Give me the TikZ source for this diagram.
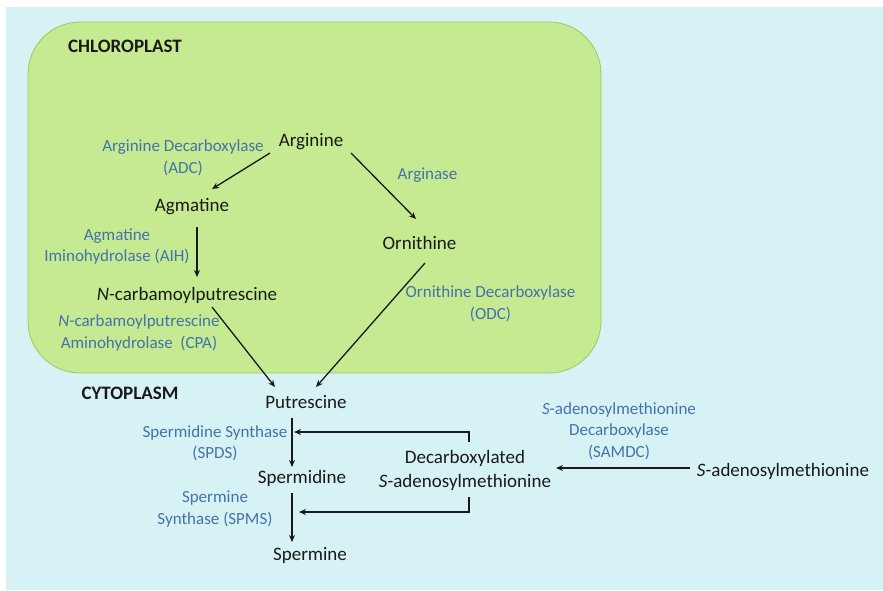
\documentclass[tikz,border=0pt]{standalone}
\usepackage{fontspec}
\setmainfont{Carlito}
\usetikzlibrary{arrows.meta}
\definecolor{bgcyan}{RGB}{214,242,245}
\definecolor{chlfill}{RGB}{198,234,145}
\definecolor{chldraw}{RGB}{150,205,95}
\definecolor{txt}{RGB}{25,25,25}
\definecolor{enzc}{RGB}{68,114,170}
\tikzset{
  met/.style={font=\fontsize{19}{24}\selectfont, text=txt, inner sep=0pt, align=center},
  enz/.style={font=\fontsize{17}{21.5}\selectfont, text=enzc, inner sep=0pt, align=center},
  comp/.style={font=\bfseries\fontsize{19}{22}\selectfont, text=txt, inner sep=0pt},
  arr/.style={-{Stealth[length=7pt,width=6pt]}, line width=1.3pt, draw=txt},
}
\begin{document}
\begin{tikzpicture}[x=1pt,y=-1pt]
\useasboundingbox (0,0) rectangle (883,590);
\fill[white] (0,0) rectangle (883,590);
\fill[bgcyan] (6,7) rectangle (883,590);
\filldraw[fill=chlfill, draw=chldraw, line width=0.8pt, rounded corners=52pt] (28,22) rectangle (601,373);

% compartments
\node[comp] (chl) at (125,46) {CHLOROPLAST};
\node[comp] (cyt) at (130,393) {CYTOPLASM};

% metabolites
\node[met] (arg) at (311,142) {Arginine};
\node[met] (agm) at (192,207) {Agmatine};
\node[met] (orn) at (419.5,243) {Ornithine};
\node[met] (ncp) at (187,295) {{\itshape N}-carbamoylputrescine};
\node[met] (put) at (306,402) {Putrescine};
\node[met] (spd) at (302,478) {Spermidine};
\node[met] (spm) at (310,555) {Spermine};
\node[met] (dsam) at (465,470) {Decarboxylated\\{\itshape S}-adenosylmethionine};
\node[met] (sam) at (783,471) {{\itshape S}-adenosylmethionine};

% enzymes
\node[enz] (adc) at (183,158) {Arginine Decarboxylase\\(ADC)};
\node[enz] (ase) at (427.5,175) {Arginase};
\node[enz] (aih) at (117,246.5) {Agmatine\\Iminohydrolase (AIH)};
\node[enz] (odc) at (490.5,304) {Ornithine Decarboxylase\\(ODC)};
\node[enz] (cpa) at (139,333) {{\itshape N}-carbamoylputrescine\\Aminohydrolase\ \ (CPA)};
\node[enz] (spds) at (215,443.5) {Spermidine Synthase\\(SPDS)};
\node[enz] (spms) at (215,509) {Spermine\\Synthase (SPMS)};
\node[enz] (samdc) at (619,431) {{\itshape S}-adenosylmethionine\\Decarboxylase\\(SAMDC)};

% junction points on the vertical arrows
\coordinate (j1) at (294,432);
\coordinate (j2) at (299,512);

% connectors
\draw[arr] ([shift={(-41,11)}]arg.center) -- ([shift={(20,-18)}]agm.center);
\draw[arr] ([shift={(40,11)}]arg.center) -- ([shift={(-3.5,-24)}]orn.center);
\draw[arr] ([shift={(5,20)}]agm.center) -- ([shift={(10,-18)}]ncp.center);
\draw[arr] ([shift={(25,12)}]ncp.center) -- ([shift={(-31,-15)}]put.center);
\draw[arr] ([shift={(5.5,20)}]orn.center) -- ([shift={(10,-15)}]put.center);
\draw[arr] ([shift={(-14,16)}]put.center) -- ([shift={(-10,-11)}]spd.center);
\draw[arr] ([shift={(-10,15)}]spd.center) -- ([shift={(-18,-13)}]spm.center);
\draw[arr] ([shift={(4,-28)}]dsam.center) |- (j1);
\draw[arr] ([shift={(4,27)}]dsam.center) |- (j2);
\draw[arr] ([shift={(-93,-3)}]sam.center) -- ([shift={(91,-2)}]dsam.center);
\end{tikzpicture}
\end{document}
